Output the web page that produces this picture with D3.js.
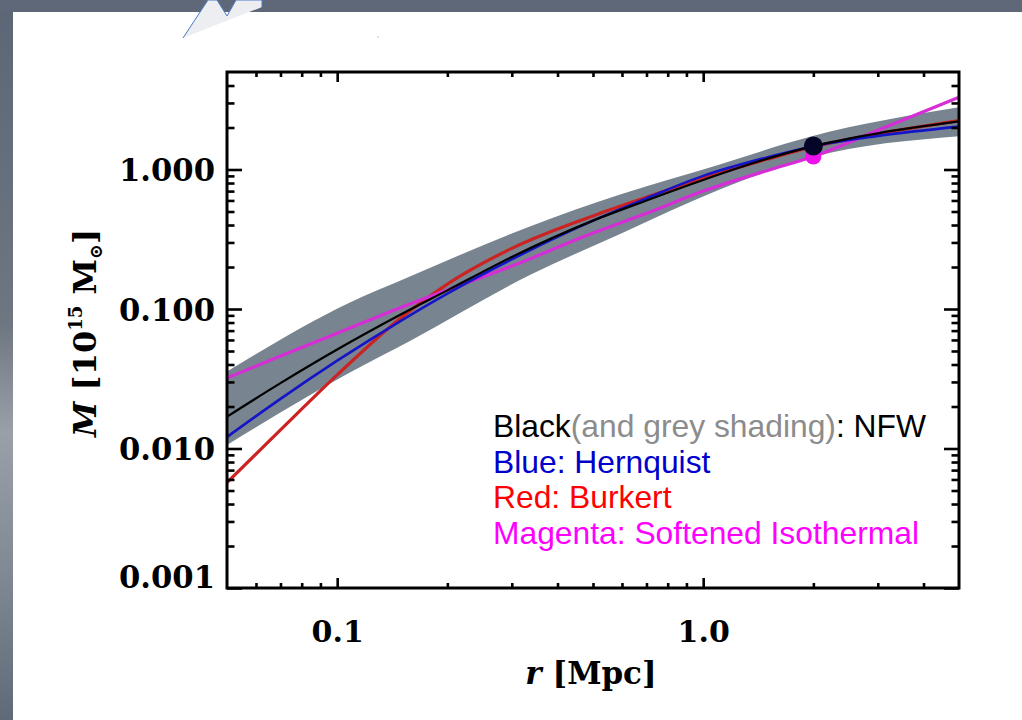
<!DOCTYPE html>
<html>
<head>
<meta charset="utf-8">
<script src="https://cdn.jsdelivr.net/npm/d3@7"></script>
<style>
  html, body { margin: 0; padding: 0; background: #ffffff; }
  svg { display: block; }
</style>
</head>
<body>
<script>
// ---------------- data ----------------
const radius = [0.05, 0.07, 0.1, 0.15, 0.2, 0.3, 0.5, 0.7, 1.0, 1.5, 2.0, 3.0, 5.0];
const nfwMass = [0.0169, 0.0294, 0.0512, 0.092, 0.136, 0.236, 0.43, 0.60, 0.841, 1.197, 1.472, 1.818, 2.21];
const hernquistMass = [0.0121, 0.0227, 0.0426, 0.083, 0.129, 0.227, 0.430, 0.622, 0.90, 1.224, 1.47, 1.74, 2.03];
const burkertMass = [0.0057, 0.0136, 0.0337, 0.0874, 0.151, 0.272, 0.465, 0.633, 0.866, 1.188, 1.455, 1.80, 2.24];
const isothermalMass = [0.032, 0.046, 0.067, 0.103, 0.137, 0.203, 0.35, 0.485, 0.70, 0.985, 1.24, 1.91, 3.3];

const bandRadius = [0.05, 0.108, 0.158, 0.336, 0.593, 1.11, 1.98, 5.0];
const bandUpper = [0.0356, 0.111, 0.171, 0.391, 0.662, 1.088, 1.73, 2.79];
const bandLower = [0.0106, 0.0349, 0.059, 0.175, 0.345, 0.72, 1.22, 1.73];

const fitPointRadius = 2.0;

const xMajorTicks = [0.1, 1.0];
const xMajorLabels = ["0.1", "1.0"];
const xMinorTicks = [0.06, 0.07, 0.08, 0.09, 0.2, 0.3, 0.4, 0.5, 0.6, 0.7, 0.8, 0.9, 2, 3, 4];
const yMajorTicks = [0.001, 0.01, 0.1, 1.0];
const yMajorLabels = ["0.001", "0.010", "0.100", "1.000"];
const yMinorTicks = [0.002,0.003,0.004,0.005,0.006,0.007,0.008,0.009,
                     0.02,0.03,0.04,0.05,0.06,0.07,0.08,0.09,
                     0.2,0.3,0.4,0.5,0.6,0.7,0.8,0.9, 2, 3, 4];

const legendLines = [
  [{t: "Black", c: "#000000"}, {t: "(and grey shading)", c: "#8c8c8c"}, {t: ": NFW", c: "#000000"}],
  [{t: "Blue: Hernquist", c: "#0000cc"}],
  [{t: "Red: Burkert", c: "#ff0000"}],
  [{t: "Magenta: Softened Isothermal", c: "#ff00ff"}]
];

// ---------------- layout ----------------
const W = 1022, H = 720;
const svg = d3.select("body").append("svg").attr("width", W).attr("height", H);

// slide background
const defs = svg.append("defs");
const lg = defs.append("linearGradient").attr("id", "leftgrad").attr("x1", 0).attr("y1", 0).attr("x2", 0).attr("y2", 1);
lg.append("stop").attr("offset", "0%").attr("stop-color", "#5c6676");
lg.append("stop").attr("offset", "45%").attr("stop-color", "#6e7682");
lg.append("stop").attr("offset", "60%").attr("stop-color", "#9aa0a8");
lg.append("stop").attr("offset", "80%").attr("stop-color", "#7f8894");
lg.append("stop").attr("offset", "100%").attr("stop-color", "#5f6a78");
svg.append("rect").attr("x", 0).attr("y", 0).attr("width", W).attr("height", H).attr("fill", "url(#leftgrad)");
svg.append("rect").attr("x", 0).attr("y", 0).attr("width", W).attr("height", 12).attr("fill", "#5e6878");
svg.append("rect").attr("x", 13).attr("y", 12).attr("width", W - 13).attr("height", H - 12).attr("fill", "#ffffff");
// decorative shape at the top of the slide
svg.append("path")
  .attr("d", "M183,38 L208,0 L217,0 L227,16 L236,0 L262,0 L262,7")
  .attr("fill", "#eceef2").attr("stroke", "#4a78c8").attr("stroke-width", 1);
svg.append("rect").attr("x", 377.5).attr("y", 36.5).attr("width", 1).attr("height", 1).attr("fill", "#8899bb");

const pLeft = 227, pRight = 959, pTop = 72, pBottom = 588;
const x = d3.scaleLog().domain([0.05, 5]).range([pLeft, pRight]);
const y = d3.scaleLog().domain([0.001, 5]).range([pBottom, pTop]);

const plot = svg.append("g");
plot.append("clipPath").attr("id", "clip").append("rect")
  .attr("x", pLeft).attr("y", pTop).attr("width", pRight - pLeft).attr("height", pBottom - pTop);
const inner = plot.append("g").attr("clip-path", "url(#clip)");

// grey shading
const bandData = bandRadius.map((r, i) => ({r, lo: bandLower[i], hi: bandUpper[i]}));
inner.append("path").datum(bandData)
  .attr("d", d3.area().x(d => x(d.r)).y0(d => y(d.lo)).y1(d => y(d.hi)).curve(d3.curveMonotoneX))
  .attr("fill", "#78848f");

const line = d3.line().x(d => x(d.r)).y(d => y(d.m)).curve(d3.curveMonotoneX);
const series = [
  {m: burkertMass, c: "#cc2222", w: 3.2},
  {m: isothermalMass, c: "#d62ed6", w: 3.2},
  {m: hernquistMass, c: "#1515c8", w: 2.6},
  {m: nfwMass, c: "#000000", w: 2.2}
];
series.forEach(s => {
  inner.append("path").datum(radius.map((r, i) => ({r, m: s.m[i]})))
    .attr("d", line).attr("fill", "none").attr("stroke", s.c).attr("stroke-width", s.w);
});

// fit points at r = 2 Mpc
const fi = radius.indexOf(fitPointRadius);
inner.append("circle").attr("cx", x(fitPointRadius)).attr("cy", y(isothermalMass[fi]))
  .attr("r", 8).attr("fill", "#ee11ee");
inner.append("circle").attr("cx", x(fitPointRadius)).attr("cy", y(nfwMass[fi]))
  .attr("r", 9.5).attr("fill", "#05052a");

// axes
const tickFont = "'DejaVu Serif', serif";
function styleAxis(g) {
  g.select(".domain").remove();
  g.selectAll(".tick line").attr("stroke", "#000").attr("stroke-width", 2.6);
}
const majX = 10, minX = 5, majY = 15, minY = 7.5;

plot.append("g").attr("transform", `translate(0,${pBottom})`)
  .call(d3.axisBottom(x).tickValues(xMinorTicks).tickSize(-minX).tickFormat(""))
  .call(styleAxis);
const xb = plot.append("g").attr("transform", `translate(0,${pBottom})`)
  .call(d3.axisBottom(x).tickValues(xMajorTicks).tickSize(-majX).tickPadding(54)
        .tickFormat((d, i) => xMajorLabels[i]))
  .call(styleAxis);
xb.selectAll(".tick text").attr("font-family", tickFont).attr("font-weight", "bold")
  .attr("font-size", 30).attr("fill", "#000").attr("dy", "0");

plot.append("g").attr("transform", `translate(0,${pTop})`)
  .call(d3.axisTop(x).tickValues(xMinorTicks).tickSize(-minX).tickFormat("")).call(styleAxis);
plot.append("g").attr("transform", `translate(0,${pTop})`)
  .call(d3.axisTop(x).tickValues(xMajorTicks).tickSize(-majX).tickFormat("")).call(styleAxis);

plot.append("g").attr("transform", `translate(${pLeft},0)`)
  .call(d3.axisLeft(y).tickValues(yMinorTicks).tickSize(-minY).tickFormat("")).call(styleAxis);
const yl = plot.append("g").attr("transform", `translate(${pLeft},0)`)
  .call(d3.axisLeft(y).tickValues(yMajorTicks).tickSize(-majY).tickPadding(12)
        .tickFormat((d, i) => yMajorLabels[i]))
  .call(styleAxis);
yl.selectAll(".tick text").attr("font-family", tickFont).attr("font-weight", "bold")
  .attr("font-size", 31).attr("fill", "#000")
  .attr("dy", d => d === yMajorTicks[0] ? "-0.03em" : "0.36em")
  .attr("textLength", 96).attr("lengthAdjust", "spacingAndGlyphs");

plot.append("g").attr("transform", `translate(${pRight},0)`)
  .call(d3.axisRight(y).tickValues(yMinorTicks).tickSize(-minY).tickFormat("")).call(styleAxis);
plot.append("g").attr("transform", `translate(${pRight},0)`)
  .call(d3.axisRight(y).tickValues(yMajorTicks).tickSize(-majY).tickFormat("")).call(styleAxis);

// frame
plot.append("rect").attr("x", pLeft).attr("y", pTop).attr("width", pRight - pLeft).attr("height", pBottom - pTop)
  .attr("fill", "none").attr("stroke", "#000").attr("stroke-width", 3);

// axis titles
const xt = svg.append("text").attr("x", 591).attr("y", 684).attr("text-anchor", "middle")
  .attr("font-family", tickFont).attr("font-weight", "bold").attr("font-size", 31).attr("fill", "#000");
xt.append("tspan").attr("font-style", "italic").text("r");
xt.append("tspan").text(" [Mpc]");

const yt = svg.append("text").attr("transform", "translate(96,333) rotate(-90)").attr("text-anchor", "middle")
  .attr("font-family", tickFont).attr("font-weight", "bold").attr("font-size", 32).attr("fill", "#000");
yt.append("tspan").attr("font-style", "italic").text("M");
yt.append("tspan").text(" [10");
yt.append("tspan").attr("font-size", 18).attr("dy", -14).text("15");
yt.append("tspan").attr("dy", 14).text(" M");
yt.append("tspan").attr("font-size", 18).attr("dy", 6).text("⊙");
yt.append("tspan").attr("dy", -6).text("]");

// legend text
const legend = svg.append("g");
legendLines.forEach((parts, i) => {
  const t = legend.append("text").attr("x", 493).attr("y", 437 + i * 35.6)
    .attr("font-family", "'Liberation Sans', Arial, sans-serif").attr("font-size", 31.8);
  parts.forEach(p => t.append("tspan").attr("fill", p.c).text(p.t));
});
</script>
</body>
</html>
